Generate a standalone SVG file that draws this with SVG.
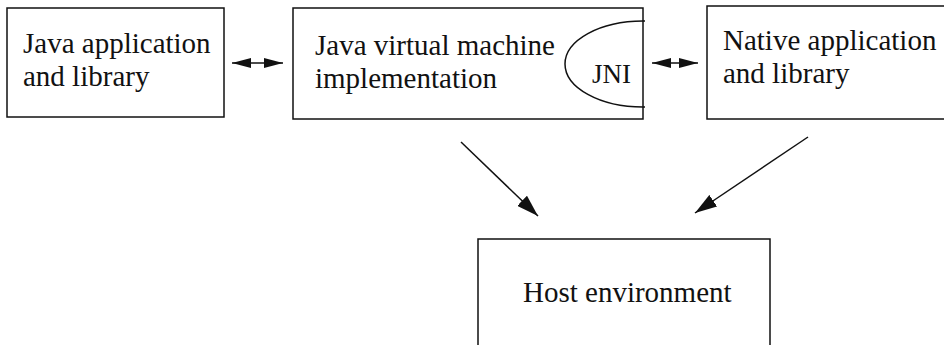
<svg xmlns="http://www.w3.org/2000/svg" width="944" height="345" viewBox="0 0 944 345">
<style>
.box{fill:#fff;stroke:#111;stroke-width:1.5}
.t{font-family:"Liberation Serif","Times New Roman",serif;font-size:29px;fill:#111}
.c{stroke:#111;stroke-width:1.5;fill:none}
</style>
<defs>
<marker id="ah" viewBox="0 0 19 10" refX="19" refY="5" markerWidth="19" markerHeight="10" markerUnits="userSpaceOnUse" orient="auto-start-reverse">
<path d="M0,0 L19,5 L0,10 Z" fill="#111"/>
</marker>
<marker id="ab" viewBox="0 0 22 14" refX="22" refY="7" markerWidth="22" markerHeight="14" markerUnits="userSpaceOnUse" orient="auto">
<path d="M0,0 L22,7 L0,14 Z" fill="#111"/>
</marker>
</defs>
<g id="java-app">
<rect class="box" x="7" y="8" width="217" height="109"/>
<text class="t" x="23" y="53">Java application</text>
<text class="t" x="23" y="86">and library</text>
</g>
<g id="jvm">
<rect class="box" x="293" y="8" width="350" height="111"/>
<text class="t" x="315" y="55">Java virtual machine</text>
<text class="t" x="315" y="88">implementation</text>
<path class="c" d="M645,21 L643,21 A78,43 0 0 0 643,107 L645,107"/>
<text class="t" x="592" y="83" style="font-size:27px">JNI</text>
</g>
<g id="native-app">
<rect class="box" x="707" y="6" width="250" height="113"/>
<text class="t" x="723" y="50">Native application</text>
<text class="t" x="723" y="83">and library</text>
</g>
<g id="host">
<rect class="box" x="478" y="239" width="292" height="130"/>
<text class="t" x="523" y="302">Host environment</text>
</g>
<g id="connectors">
<line class="c" x1="232" y1="63" x2="283" y2="63" marker-start="url(#ah)" marker-end="url(#ah)"/>
<line class="c" x1="652" y1="63" x2="698" y2="63" marker-start="url(#ah)" marker-end="url(#ah)"/>
<line class="c" x1="461" y1="142" x2="538" y2="216" marker-end="url(#ab)"/>
<line class="c" x1="808" y1="137" x2="695" y2="213" marker-end="url(#ab)"/>
</g>
</svg>
